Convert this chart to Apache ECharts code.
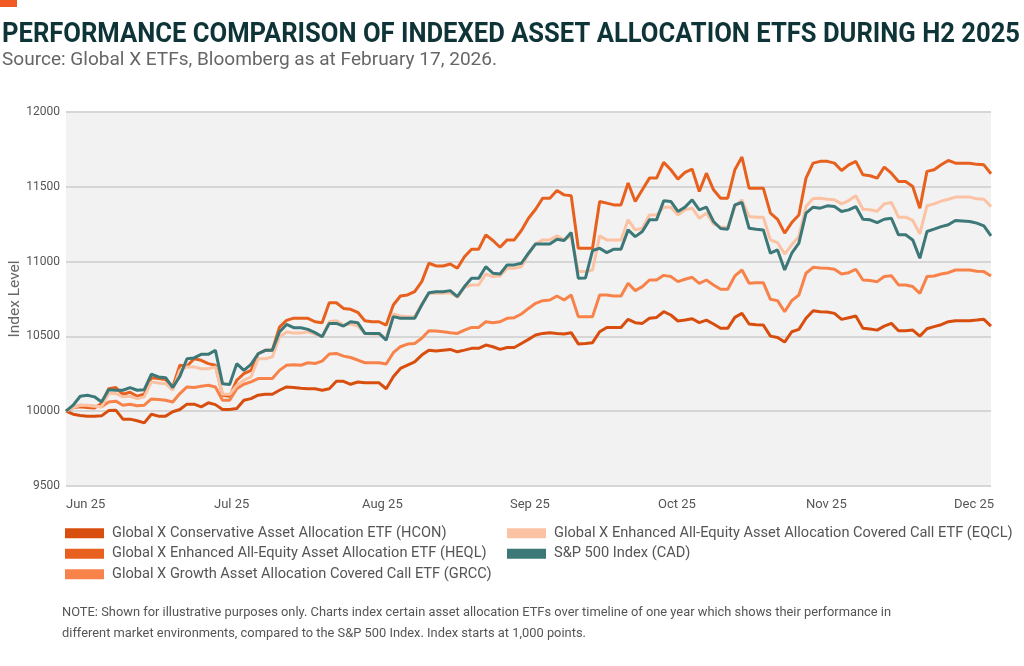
<!DOCTYPE html>
<html>
<head>
<meta charset="utf-8">
<script src="https://cdn.jsdelivr.net/npm/echarts@6/dist/echarts.min.js"></script>
<style>
html,body{margin:0;padding:0;background:#fff;}
#chart{width:1024px;height:666px;}
</style>
</head>
<body>
<div id="chart"></div>
<script>
// ---- data ----
const tickLabels = ['Jun 25', 'Jul 25', 'Aug 25', 'Sep 25', 'Oct 25', 'Nov 25', 'Dec 25'];
const seriesNames = [
  'Global X Conservative Asset Allocation ETF (HCON)',
  'Global X Enhanced All-Equity Asset Allocation ETF (HEQL)',
  'Global X Growth Asset Allocation Covered Call ETF (GRCC)',
  'Global X Enhanced All-Equity Asset Allocation Covered Call ETF (EQCL)',
  'S&P 500 Index (CAD)'
];
const hcon = [10000,9980,9971,9967,9967,9969,10004,10007,9947,9947,9936,9922,9980,9967,9967,9996,10011,10047,10047,10029,10056,10044,10011,10011,10018,10073,10084,10107,10113,10113,10140,10162,10158,10153,
  10150,10150,10140,10150,10200,10200,10180,10195,10190,10190,10190,10150,10230,
  10286,10308,10330,10375,10408,10402,10408,10413,10397,10408,10420,10420,10442,10431,10413,10426,10426,10453,10480,10509,10520,10525,10520,10516,10525,10450,
  10453,10458,10531,10560,10560,10560,10614,10592,10587,10621,10627,10665,10643,10603,10609,10618,10592,10609,10583,10554,10554,10627,10654,10583,10578,10576,
  10502,10493,10462,10531,10547,10621,10672,10665,10663,10654,10614,10625,10636,10554,10549,10542,10569,10587,10538,10538,10542,10502,10551,10565,10578,10598,10605,10605,10605,10609,10614,10569];
const heql = [10000,10024,10029,10024,10022,10051,10151,10158,10113,10127,10100,10113,10224,10218,10211,10162,10307,10300,10351,10340,10318,10307,10107,10100,10207,10251,10273,10384,10407,10407,10562,10607,10622,10622,
  10621,10598,10592,10725,10725,10687,10681,10661,10605,10598,10598,10576,10710,10770,10777,10799,10866,10989,10971,10971,10984,10955,11033,11083,11083,11179,11141,11096,11145,11145,11208,11290,11350,11424,11424,11475,11446,11440,11089,
  11089,11089,11402,11391,11379,11379,11525,11402,11480,11558,11558,11663,11614,11551,11596,11618,11469,11591,11480,11424,11424,11614,11699,11491,11491,11491,
  11324,11283,11190,11261,11312,11558,11658,11670,11670,11658,11609,11647,11670,11580,11574,11558,11632,11591,11536,11536,11502,11357,11603,11614,11647,11676,11658,11658,11658,11650,11647,11587];
const grcc = [10000,10024,10040,10036,10033,10029,10062,10067,10040,10047,10036,10040,10082,10078,10073,10062,10118,10162,10158,10167,10173,10162,10073,10073,10151,10180,10196,10218,10218,10218,10273,10307,10311,10307,
  10324,10319,10335,10382,10386,10368,10359,10342,10324,10324,10324,10315,10391,10431,10449,10453,10487,10538,10536,10531,10525,10520,10542,10560,10560,10598,10592,10598,10621,10625,10650,10687,10721,10739,10743,10770,10743,10777,10632,
  10632,10632,10777,10777,10770,10770,10855,10806,10833,10877,10877,10908,10900,10866,10882,10895,10855,10877,10844,10815,10815,10904,10944,10855,10859,10859,
  10748,10739,10665,10739,10777,10922,10962,10958,10955,10949,10917,10926,10949,10877,10873,10866,10900,10906,10844,10844,10833,10788,10900,10904,10917,10926,10944,10944,10944,10935,10933,10904];
const eqcl = [10000,10024,10040,10040,10033,10029,10118,10118,10096,10100,10084,10096,10196,10189,10184,10140,10273,10296,10296,10284,10284,10296,10113,10113,10173,10207,10229,10351,10351,10362,10496,10529,10522,10522,
  10531,10516,10498,10598,10605,10576,10583,10569,10520,10516,10516,10487,10650,10636,10632,10632,10717,10788,10788,10788,10792,10761,10828,10844,10844,10917,10900,10904,10955,10955,10966,11051,11118,11145,11145,11172,11145,11172,
  10933,10933,10944,11172,11145,11145,11145,11279,11212,11223,11312,11312,11364,11364,11312,11346,11357,11290,11324,11252,11230,11230,11368,11413,11301,11297,11297,
  11145,11127,11051,11112,11167,11368,11422,11424,11417,11413,11386,11408,11440,11350,11346,11337,11386,11395,11297,11297,11275,11185,11373,11386,11404,11417,11431,11431,11431,11420,11417,11368];
const spx = [10000,10040,10100,10107,10096,10062,10144,10140,10140,10158,10140,10144,10247,10229,10224,10158,10233,10351,10356,10380,10380,10407,10184,10178,10318,10273,10313,10384,10407,10407,10529,10580,10558,10558,
  10547,10525,10498,10587,10587,10569,10598,10592,10520,10520,10520,10475,10632,10621,10621,10621,10710,10792,10799,10799,10806,10766,10833,10888,10888,10966,10922,10917,10978,10978,10989,11056,11118,11118,11118,11150,11141,11194,10888,
  10890,11074,11089,11060,11083,11083,11212,11167,11201,11279,11279,11406,11402,11335,11364,11413,11346,11364,11268,11221,11217,11379,11395,11223,11217,11212,
  11056,11078,10944,11056,11123,11324,11364,11357,11373,11368,11335,11346,11368,11283,11279,11261,11283,11290,11179,11179,11145,11022,11201,11217,11234,11246,11275,11272,11268,11257,11239,11172];
const colors = ['#d84e0e', '#e8601e', '#f8834a', '#fcc2a4', '#3b7877'];
const titleText = 'PERFORMANCE COMPARISON OF INDEXED ASSET ALLOCATION ETFS DURING H2 2025';
const subtitleText = 'Source: Global X ETFs, Bloomberg as at February 17, 2026.';
const note1 = 'NOTE: Shown for illustrative purposes only. Charts index certain asset allocation ETFs over timeline of one year which shows their performance in';
const note2 = 'different market environments, compared to the S&P 500 Index. Index starts at 1,000 points.';

// ---- helpers ----
const mctx = document.createElement('canvas').getContext('2d');
function fit(text, font, w) { mctx.font = font; return w / mctx.measureText(text).width; }
const pts = arr => arr.map((v, i) => [i, v]);
const allSeries = [hcon, heql, grcc, eqcl, spx];
const lastIdx = hcon.length - 1;
const step = 20.8;

const titleFont = 'bold 27px Roboto';
const subFont = '19px Roboto';
const noteFont = '13px Roboto';
const noteScale = fit(note1, noteFont, 829);
const legendText = { fontFamily: 'Roboto', fontSize: 14.6, color: '#555', lineHeight: 20.5, padding: [0, 0, 0, 3] };

const chart = echarts.init(document.getElementById('chart'), null, { renderer: 'canvas' });
chart.setOption({
  backgroundColor: '#ffffff',
  animation: false,
  color: colors,
  graphic: [
    { type: 'rect', shape: { x: 0, y: 0, width: 17, height: 7 }, style: { fill: '#f15a22' } },
    { type: 'text', x: 2, y: 35, scaleX: fit(titleText, titleFont, 1018),
      style: { text: titleText, font: titleFont, fill: '#0e3438', align: 'left', verticalAlign: 'middle' } },
    { type: 'text', x: 2, y: 60, scaleX: fit(subtitleText, subFont, 495),
      style: { text: subtitleText, font: subFont, fill: '#666666', align: 'left', verticalAlign: 'middle' } },
    { type: 'text', x: 62, y: 613, scaleX: noteScale,
      style: { text: note1, font: noteFont, fill: '#555555', align: 'left', verticalAlign: 'middle' } },
    { type: 'text', x: 62, y: 634, scaleX: noteScale,
      style: { text: note2, font: noteFont, fill: '#555555', align: 'left', verticalAlign: 'middle' } }
  ],
  grid: { left: 66, right: 33, top: 112, bottom: 180, show: true, backgroundColor: '#f2f2f2', borderWidth: 0,
    containLabel: false, outerBoundsMode: 'none' },
  legend: [
    { data: seriesNames.slice(0, 3), orient: 'vertical', left: 65, top: 523, padding: 0, itemWidth: 39, itemHeight: 10, itemGap: 0,
      icon: 'rect', textStyle: legendText },
    { data: seriesNames.slice(3), orient: 'vertical', left: 507, top: 523, padding: 0, itemWidth: 39, itemHeight: 10, itemGap: 0,
      icon: 'rect', textStyle: legendText }
  ],
  xAxis: {
    type: 'value', min: 0, max: lastIdx, interval: step,
    axisLine: { show: false }, axisTick: { show: false }, splitLine: { show: false },
    axisLabel: {
      showMaxLabel: false, align: 'left', margin: 12, color: '#555', fontFamily: 'Roboto', fontSize: 13,
      formatter: v => { const k = Math.round(v / step); return Math.abs(v / step - k) < 0.01 ? (tickLabels[k] || '') : ''; }
    }
  },
  yAxis: {
    type: 'value', min: 9500, max: 12000, interval: 500,
    name: 'Index Level', nameLocation: 'middle', nameGap: 43, nameMoveOverlap: false,
    nameTextStyle: { fontFamily: 'Roboto', fontSize: 15.5, color: '#666' },
    axisLine: { show: false }, axisTick: { show: false },
    axisLabel: { color: '#555', fontFamily: 'Roboto', fontSize: 12, margin: 6, formatter: v => String(v) },
    splitLine: { lineStyle: { color: '#d6d6d6', width: 2 } }
  },
  series: allSeries.map((arr, k) => ({
    name: seriesNames[k], type: 'line', data: pts(arr), showSymbol: false, symbol: 'none',
    lineStyle: { width: 3, color: colors[k] }, itemStyle: { color: colors[k] },
    emphasis: { disabled: true }, z: 2 + k
  }))
});
</script>
</body>
</html>
